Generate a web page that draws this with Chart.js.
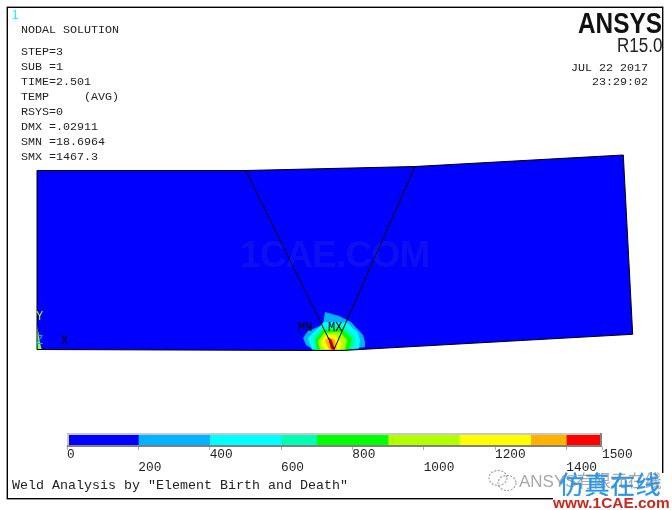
<!DOCTYPE html>
<html><head><meta charset="utf-8">
<script src="https://cdn.jsdelivr.net/npm/chart.js@4"></script>
<style>
html,body{margin:0;padding:0;background:#fff;width:672px;height:510px;overflow:hidden}
#frame{position:absolute;left:7px;top:7px;width:654px;height:490px;border:1px solid #000;box-shadow:0 0 0 .5px #333}
#mask{position:absolute;left:659px;top:473px;width:6px;height:26px;background:#fff}
#plate{position:absolute;left:0;top:0}
#barWrap{position:absolute;left:67px;top:433px;width:575px;height:50px}
.t{position:absolute;white-space:pre;font:11.67px/14px "Liberation Mono",monospace;color:#222}
.m{font-size:12px;color:#000;line-height:12px}
#title{font-size:13.33px}
#one{font:12px/14px "Liberation Sans",sans-serif;color:#00ffff}
#ans{font:bold 29px/30px "Liberation Sans",sans-serif;color:#111;transform:scaleX(.84);transform-origin:right top;right:10px;top:8px}
#rel{font:20px/20px "Liberation Sans",sans-serif;color:#222;transform:scaleX(.85);transform-origin:right top;right:10px;top:35px}
#wm{position:absolute;left:240px;top:235px;font:bold 37px/40px "Liberation Sans",sans-serif;color:rgba(60,70,190,.22);letter-spacing:-.7px}
#gray{position:absolute;left:519px;top:471px;font:17px/22px "Liberation Sans","Noto Sans CJK SC",sans-serif;color:#a8a8a8;white-space:pre}
#blue{position:absolute;left:559px;top:468px;font:normal 25px/30px "Noto Sans CJK SC",sans-serif;color:#2c94e4;letter-spacing:.5px;white-space:pre;-webkit-text-stroke:.3px #2c94e4}
#red{position:absolute;left:553px;top:496px;width:119px;background:#fff;font:bold 15.4px/14px "Liberation Sans",sans-serif;color:#c8281e;white-space:pre}
#wechat{position:absolute;left:487px;top:468px}
</style></head><body>
<div id="frame"></div>
<div id="mask"></div>
<canvas id="plate" width="672" height="510" style="width:672px;height:510px"></canvas>
<div id="barWrap"><canvas id="bar" width="575" height="50" style="width:575px;height:50px"></canvas></div>
<div id="wm">1CAE.COM</div>
<div class="t" id="one" style="left:12px;top:8px">1</div>
<div class="t" style="left:21px;top:23px">NODAL SOLUTION</div>
<div class="t" style="left:21px;top:45px">STEP=3</div>
<div class="t" style="left:21px;top:60px">SUB =1</div>
<div class="t" style="left:21px;top:75px">TIME=2.501</div>
<div class="t" style="left:21px;top:90px">TEMP     (AVG)</div>
<div class="t" style="left:21px;top:105px">RSYS=0</div>
<div class="t" style="left:21px;top:120px">DMX =.02911</div>
<div class="t" style="left:21px;top:135px">SMN =18.6964</div>
<div class="t" style="left:21px;top:150px">SMX =1467.3</div>
<div class="t" id="ans">ANSYS</div>
<div class="t" id="rel">R15.0</div>
<div class="t" style="left:571px;top:61px">JUL 22 2017</div>
<div class="t" style="left:592px;top:75px">23:29:02</div>
<div class="t m" style="left:36px;top:311px;color:#b2ff00">Y</div>
<div class="t m" style="left:36px;top:335px;color:#00b2ff">Z</div>
<div class="t m" style="left:61px;top:335px">X</div>
<div class="t m" style="left:298px;top:322px">MN</div>
<div class="t m" style="left:328px;top:322px">MX</div>
<div class="t" id="title" style="left:12px;top:479px">Weld Analysis by "Element Birth and Death"</div>
<svg id="wechat" width="32" height="26" fill="none" stroke="#999" stroke-width="1.1" stroke-dasharray="2 1.5"><ellipse cx="11" cy="10" rx="9" ry="7.5"/><ellipse cx="20" cy="15" rx="9" ry="7.5"/></svg>
<div id="gray">ANSYS有限元在线</div>
<div id="blue">仿真在线</div>
<div id="red">www.1CAE.com</div>
<script>
// Model coordinates of the plate section: [x, y]
const plateOutline = [[0,35.8],[41.74,35.8],[75.6,36.6],[117.26,38.9],[119.14,3.04],[61,-0.2],[56.6,-0.2],[0,0],[0,35.8]];
const weldLineLeft = [[41.74,35.8],[59.4,0]];
const weldLineRight = [[75.6,36.6],[59.4,0]];
const contourSky = [[53.2,2.3],[54.2,3.7],[57.2,4.9],[57.6,7.5],[60.4,6.7],[62.8,5.5],[65.2,2.9],[65.6,1.5],[65.6,0.5],[61,-0.1],[55.2,0],[53.8,0.9]];
const contourCyan = [[54.2,2.3],[55.6,3.7],[57.4,5.5],[62,5.4],[64.2,3.3],[64.6,1.9],[64.4,0.2],[61,-0.1],[55,0]];
const contourSpring = [[55.2,2.3],[57,4.5],[61.6,4.7],[63.6,2.5],[63.6,0.2],[61,-0.1],[55.6,0]];
const contourGreen = [[55.6,1.9],[57.2,3.9],[61,4.1],[63,2.3],[62.6,0.1],[61,-0.1],[56,0]];
const contourLime = [[56.2,1.7],[57.4,3.3],[60.6,3.5],[62,1.9],[61.6,0],[56.6,0]];
const contourYellow = [[56.8,1.5],[57.8,2.9],[59.6,2.9],[61,1.3],[60.6,0],[57.4,0]];
const contourOrange = [[57.6,1.7],[58.2,2.5],[59.6,1.9],[60,0],[58.4,0]];
const contourRed = [[58.2,2.5],[59,1.9],[59.6,0],[58.8,0]];
const cornerLime = [[0,4.9],[0.3,3.3],[0.6,1.3],[0.94,0],[0,0]];
const cornerCyan = [[0,1.1],[0.3,0.8],[0.2,0],[0,0]];

// Colour legend
const bandEdges = [0,200,400,600,700,900,1100,1300,1400,1500];
const bandColors = ['#0000ff','#00b2ff','#00ffff','#00ffb2','#00ff00','#b2ff00','#ffff00','#ffb200','#ff0000'];
const tickValues = [0,200,400,600,800,1000,1200,1400,1500];

const toPts = a => a.map(p => ({x:p[0], y:p[1]}));
const region = (pts, color) => ({data:toPts(pts), showLine:true, pointRadius:0, borderWidth:0, backgroundColor:color, borderColor:color, fill:'shape', clip:false});
const stack = [
  region(plateOutline,'#0000ff'),
  region(contourSky,'#00b2ff'), region(contourCyan,'#00ffff'), region(contourSpring,'#00ffb2'),
  region(contourGreen,'#00ff00'), region(contourLime,'#b2ff00'), region(contourYellow,'#ffff00'),
  region(contourOrange,'#ffb200'), region(contourRed,'#ff0000'),
  region(cornerLime,'#b2ff00'), region(cornerCyan,'#00ffff'),
  {data:toPts(plateOutline), showLine:true, pointRadius:0, borderWidth:1, borderColor:'#000', fill:false},
  {data:toPts(weldLineLeft), showLine:true, pointRadius:0, borderWidth:1, borderColor:'#000', fill:false},
  {data:toPts(weldLineRight), showLine:true, pointRadius:0, borderWidth:1, borderColor:'#000', fill:false}
];
stack.forEach((d,i)=>{d.order=-i;});

new Chart(document.getElementById('plate'),{
  type:'scatter',
  data:{datasets:stack},
  options:{responsive:false,animation:false,devicePixelRatio:1,
    layout:{padding:0},
    plugins:{legend:{display:false},tooltip:{enabled:false},filler:{drawTime:'beforeDatasetDraw'}},
    scales:{x:{type:'linear',display:false,min:-7.4,max:127},y:{type:'linear',display:false,min:-32.1,max:69.9}}
  }
});

const bevel = {id:'bevel',afterDatasetsDraw(c){
  const {ctx,chartArea:a}=c; ctx.save();
  ctx.fillStyle='#c8c8c8'; ctx.fillRect(a.left,a.top,a.right-a.left,2); ctx.fillRect(a.left,a.top,2,a.bottom-a.top);
  ctx.fillStyle='#808080'; ctx.fillRect(a.left,a.bottom-2,a.right-a.left,2); ctx.fillRect(a.right-2,a.top,2,a.bottom-a.top);
  ctx.restore();
}};
new Chart(document.getElementById('bar'),{
  type:'bar',
  data:{labels:[''],datasets:bandColors.map((c,i)=>({data:[[bandEdges[i],bandEdges[i+1]]],backgroundColor:c,borderWidth:0,grouped:false,categoryPercentage:1,barPercentage:1}))},
  plugins:[bevel],
  options:{indexAxis:'y',responsive:false,animation:false,devicePixelRatio:1,
    layout:{padding:0},
    plugins:{legend:{display:false},tooltip:{enabled:false}},
    scales:{
      y:{display:false},
      x:{type:'linear',min:0,max:1500,position:'bottom',
        afterBuildTicks(s){s.ticks=tickValues.map(v=>({value:v}));},
        afterFit(s){s.height=36;s.paddingRight=40;s.paddingLeft=0;},
        border:{display:false},
        grid:{drawOnChartArea:false,drawTicks:true,tickLength:3,tickColor:'#aaa'},
        ticks:{autoSkip:false,maxRotation:0,align:'start',padding:-2,color:'#222',
          font:{family:'"Liberation Mono",monospace',size:12.8,lineHeight:1.0},
          callback(v,i){return i%2?['',String(v)]:[String(v)];}}
      }
    }
  }
});
</script>
</body></html>
